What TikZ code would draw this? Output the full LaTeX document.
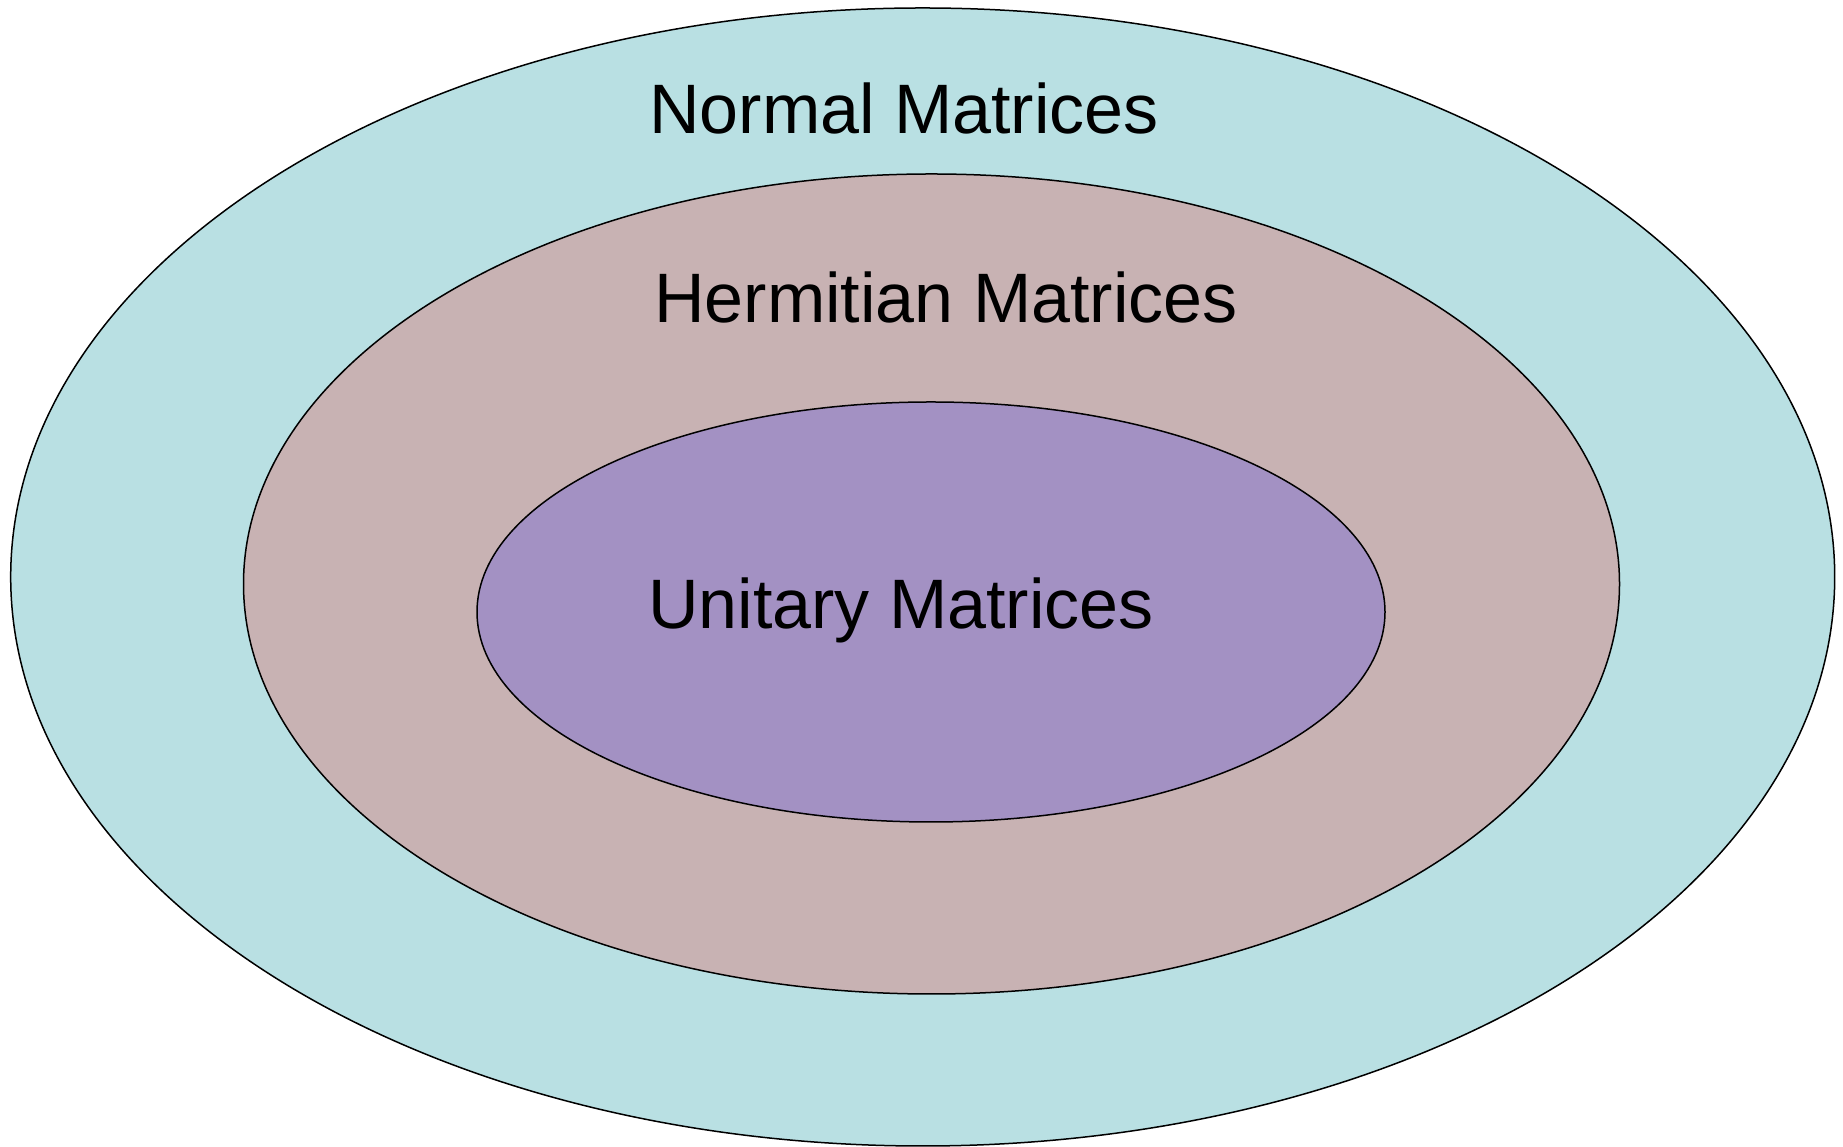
\documentclass[tikz,border=0pt]{standalone}
\usepackage{fontspec}
\setmainfont{Liberation Sans}
\usetikzlibrary{shapes.geometric}
\definecolor{outerc}{HTML}{B9E0E3}
\definecolor{midc}{HTML}{C8B2B3}
\definecolor{innerc}{HTML}{A391C3}
\tikzset{
  setell/.style={ellipse, draw=black, line width=1.5pt, inner sep=0pt},
  lbl/.style={anchor=base, inner sep=0pt, font=\fontsize{70}{80}\selectfont}
}
\begin{document}
\begin{tikzpicture}[x=1pt,y=1pt]
\useasboundingbox (0,0) rectangle (1843,1147);
\node[setell, fill=outerc, minimum width=1824pt, minimum height=1138pt] (outer) at (922.7,570) {};
\node[setell, fill=midc, minimum width=1376pt, minimum height=820pt] (mid) at (931.5,563) {};
\node[setell, fill=innerc, minimum width=908pt, minimum height=420pt] (inner) at (931,535) {};
\node[lbl] (tn) at (904,1013) {Normal Matrices};
\node[lbl] (th) at (946,824) {Hermitian Matrices};
\node[lbl] (tu) at (901,518) {Unitary Matrices};
\end{tikzpicture}
\end{document}
